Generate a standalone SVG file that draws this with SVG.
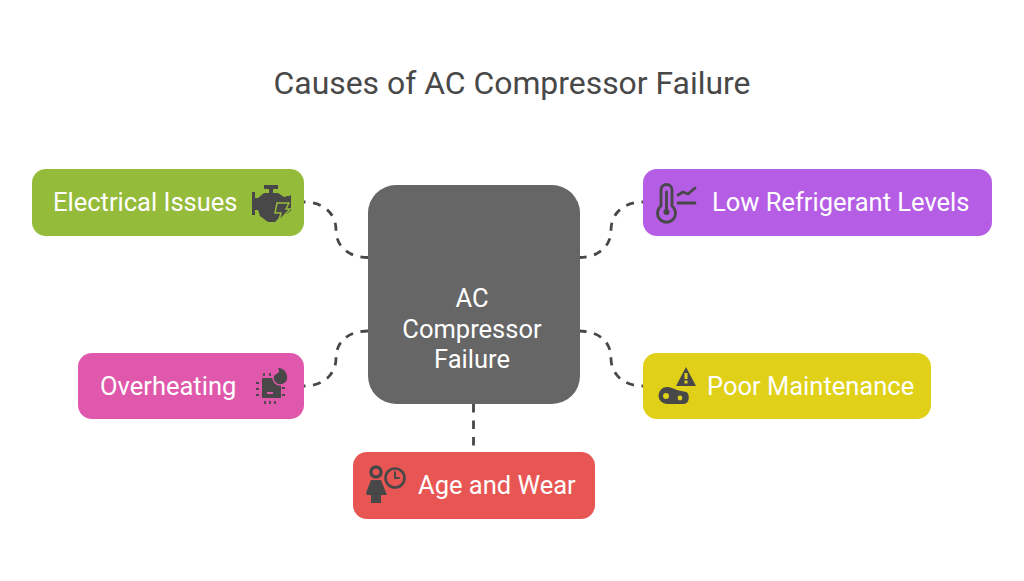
<svg xmlns="http://www.w3.org/2000/svg" width="1024" height="581" viewBox="0 0 1024 581">
<style>
text{font-family:Roboto,"Liberation Sans",sans-serif;fill:#fff;font-size:25.500px}
.title{fill:#484848;font-size:31.900px;text-anchor:middle}
.c{fill:none;stroke:#484848;stroke-width:2.800;stroke-dasharray:8.500 8;stroke-dashoffset:7}
.i{fill:#484848}
.l{fill:none;stroke:#484848;stroke-width:2.800;stroke-linecap:round;stroke-linejoin:round}
</style>
<rect width="1024" height="581" fill="#fff"/>
<text class="title" x="512" y="94" id="title">Causes of AC Compressor Failure</text>
<g id="connectors">
<path class="c" pathLength="100" d="M304 202C324 202 336 214 336 230C336 246 348 257.500 368 257.500"/>
<path class="c" pathLength="100" d="M304 386C324 386 336 374 336 358C336 342 348 331 368 331"/>
<path class="c" pathLength="100" d="M643 202C623 202 611 214 611 230C611 246 599 257.500 579 257.500"/>
<path class="c" pathLength="100" d="M643 386C623 386 611 374 611 358C611 342 599 331 579 331"/>
<path class="c" style="stroke-dashoffset:0" d="M473.500 404V452"/>
</g>
<g id="center"><rect x="368" y="185" width="212" height="219" rx="28" fill="#666"/>
<text text-anchor="middle" x="472" y="307">AC</text><text text-anchor="middle" x="472" y="338">Compressor</text><text text-anchor="middle" x="472" y="368">Failure</text></g>
<g id="electrical"><rect x="32" y="169" width="272" height="67" rx="14" fill="#95bb3b"/>
<text x="53" y="211">Electrical Issues</text>
<path class="i" d="M252 192h3v6h3l6-5h5v-4h-5v-4h14v4h-5v4h5l6 4h1l2-1h3v-1h1v16h-1l-3 3-6-1-3 6-3 3h-7l-8-6-2-6h-3v5h-3z"/>
<path d="M277 203h12l-3 6h4l-11 12 2-8h-6z" class="i" stroke="#95bb3b" stroke-width="1.500"/></g>
<g id="overheating"><rect x="78" y="353" width="226" height="66" rx="14" fill="#df58ab"/>
<text x="100" y="395">Overheating</text>
<rect class="i" x="262" y="378" width="19" height="20" rx="1"/>
<rect x="267" y="392" width="6" height="2" fill="#df58ab"/>
<path class="i" stroke="#df58ab" stroke-width="1.500" d="M277 367c7 0 11 5 11 11a7.500 7.500 0 1 1-15-1c0-3 3-3 5-5 1-1 0-3-1-5z"/>
<path class="l" style="stroke-width:1.800;stroke-linecap:butt;stroke-dasharray:3 3" d="M264 376v-3M270 376v-3M265 401v3M270 401v3M275 401v3M259 383h-4M259 389h-4M259 395h-4M282 388h4M282 395h4"/></g>
<g id="age"><rect x="353" y="452" width="242" height="67" rx="14" fill="#e85654"/>
<text x="418" y="494">Age and Wear</text>
<circle cx="376" cy="472" r="5" fill="none" stroke="#484848" stroke-width="3.500"/>
<path class="i" d="M371 480h10l6 15h-6v8h-10v-8h-4l-1-2z"/>
<circle cx="395" cy="478" r="9.500" fill="none" stroke="#484848" stroke-width="2.600"/>
<path class="l" style="stroke-width:2" d="M395 472v6h4"/></g>
<g id="refrigerant"><rect x="643" y="169" width="349" height="67" rx="14" fill="#b55ee5"/>
<text x="712" y="211">Low Refrigerant Levels</text>
<path class="l" d="M661 206v-16a5.500 5.500 0 0 1 11 0v16a9 9 0 1 1-11 0z"/>
<circle class="i" cx="666.500" cy="212" r="3"/><path class="l" d="M666.500 192v18"/>
<path class="l" d="M678 195l5-3 5 2 7-6M678 203h17"/></g>
<g id="maintenance"><rect x="643" y="353" width="288" height="66" rx="14" fill="#e0d018"/>
<text x="707" y="395">Poor Maintenance</text>
<path class="i" d="M686 367l10 19h-20z"/><rect x="684.500" y="373" width="3" height="6" fill="#e0d018"/><rect x="684.500" y="380.500" width="3" height="3" fill="#e0d018"/>
<path class="i" d="M667 387c4 0 7 2 10 3l9 2c4 1 4 12-2 12h-17a8.500 8.500 0 0 1 0-17z"/>
<circle cx="666" cy="396" r="3" fill="#e0d018"/><circle cx="680" cy="398" r="2.400" fill="#e0d018"/></g>
</svg>
